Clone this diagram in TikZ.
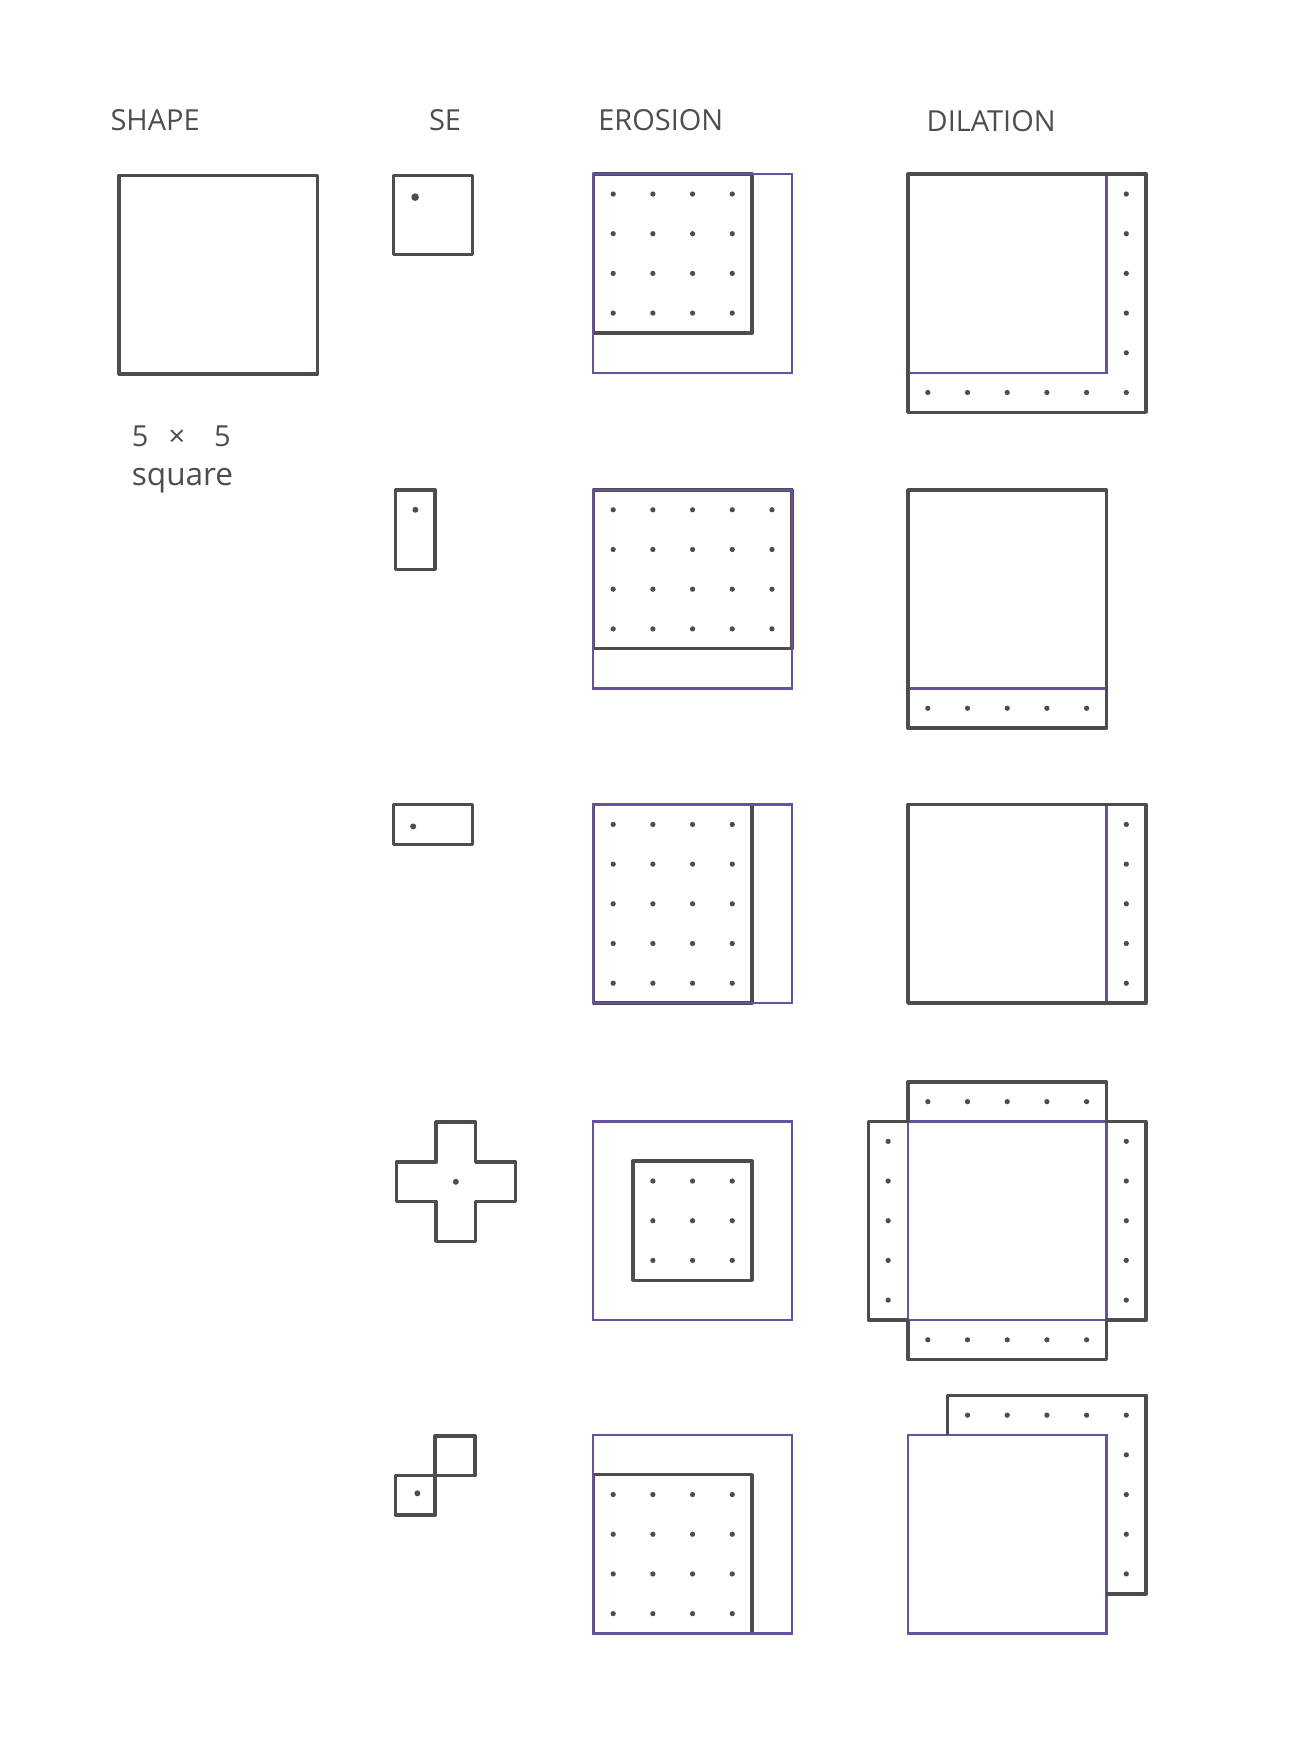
\documentclass[tikz,border=0pt]{standalone}
\usepackage{fontspec}
\setmainfont{Open Sans}
\usetikzlibrary{positioning}
\definecolor{pencil}{RGB}{80,76,78}
\definecolor{inkviolet}{RGB}{104,82,160}

\begin{document}
\begin{tikzpicture}[
    x=0.0225cm, y=-0.0225cm,
    result/.style={draw=pencil, line width=2pt, line join=round},
    orig/.style={draw=inkviolet, line width=1.3pt},
    sebox/.style={draw=pencil, line width=2pt, line join=round},
    pix/.style={fill=pencil},
    sepix/.style={fill=pencil},
    title/.style={font=\fontsize{16.5}{19}\selectfont, text=pencil, inner sep=0pt},
    cell/.style={x=0.795cm, y=-0.795cm}
  ]
    \useasboundingbox (0,0) rectangle (1148,1568);

    % column heads
    \node[title] (shapehead) at (138,107) {SHAPE};
    \node[title] (sehead) at (396,107) {SE};
    \node[title] (erohead) at (588,107) {EROSION};
    \node[title] (dilhead) at (882,108) {DILATION};

    % the shape
    \begin{scope}[shift={(106,156)}, cell]
        \draw[sebox] (0,0) rectangle (5,5);
    \end{scope}
    \node[title, anchor=west] (sizenote) at (117,388) {5\hspace{0.7em}×\hspace{1.0em}5};
    \node[title, anchor=west, font=\fontsize{18}{20}\selectfont] (sqnote) at (117,428) {square};

    % row 1: 2x2 square
    \begin{scope}[shift={(350,156)}, cell]
        \draw[sebox] (0,0) rectangle (2,2);
        \fill[sepix] (0.55,0.55) circle[radius=2.2pt];
    \end{scope}
    \begin{scope}[shift={(528,155)}, cell]
        \draw[result] (0,0) rectangle (4,4);
        \draw[orig] (0,0) rectangle (5,5);
        \foreach \i in {0,...,3}
            \foreach \j in {0,...,3}
                \fill[pix] (\i+.5,\j+.5) circle[radius=1.5pt];
    \end{scope}
    \begin{scope}[shift={(808,155)}, cell]
        \draw[orig] (0,0) rectangle (5,5);
        \draw[result] (0,0) rectangle (6,6);
        \foreach \j in {0,...,5}
            \fill[pix] (5.5,\j+.5) circle[radius=1.5pt];
        \foreach \i in {0,...,4}
            \fill[pix] (\i+.5,5.5) circle[radius=1.5pt];
    \end{scope}

    % row 2: vertical pair
    \begin{scope}[shift={(352,436)}, cell]
        \draw[sebox] (0,0) rectangle (1,2);
        \fill[sepix] (0.5,0.5) circle[radius=1.7pt];
    \end{scope}
    \begin{scope}[shift={(528,436)}, cell]
        \draw[result] (0,0) rectangle (5,4);
        \draw[orig] (0,0) rectangle (5,5);
        \foreach \i in {0,...,4}
            \foreach \j in {0,...,3}
                \fill[pix] (\i+.5,\j+.5) circle[radius=1.5pt];
    \end{scope}
    \begin{scope}[shift={(808,436)}, cell]
        \draw[orig] (0,0) rectangle (5,5);
        \draw[result] (0,0) rectangle (5,6);
        \foreach \i in {0,...,4}
            \fill[pix] (\i+.5,5.5) circle[radius=1.5pt];
    \end{scope}

    % row 3: horizontal pair
    \begin{scope}[shift={(350,716)}, cell]
        \draw[sebox] (0,0) rectangle (2,1);
        \fill[sepix] (0.5,0.55) circle[radius=1.7pt];
    \end{scope}
    \begin{scope}[shift={(528,716)}, cell]
        \draw[result] (0,0) rectangle (4,5);
        \draw[orig] (0,0) rectangle (5,5);
        \foreach \i in {0,...,3}
            \foreach \j in {0,...,4}
                \fill[pix] (\i+.5,\j+.5) circle[radius=1.5pt];
    \end{scope}
    \begin{scope}[shift={(808,716)}, cell]
        \draw[orig] (0,0) rectangle (5,5);
        \draw[result] (0,0) rectangle (6,5);
        \foreach \j in {0,...,4}
            \fill[pix] (5.5,\j+.5) circle[radius=1.5pt];
    \end{scope}

    % row 4: cross
    \begin{scope}[shift={(388,1034)}, cell]
        \draw[sebox] (0,-1) -- (1,-1) -- (1,0) -- (2,0) -- (2,1) -- (1,1) -- (1,2)
            -- (0,2) -- (0,1) -- (-1,1) -- (-1,0) -- (0,0) -- cycle;
        \fill[sepix] (0.5,0.5) circle[radius=1.7pt];
    \end{scope}
    \begin{scope}[shift={(528,998)}, cell]
        \draw[result] (1,1) rectangle (4,4);
        \draw[orig] (0,0) rectangle (5,5);
        \foreach \i in {1,...,3}
            \foreach \j in {1,...,3}
                \fill[pix] (\i+.5,\j+.5) circle[radius=1.5pt];
    \end{scope}
    \begin{scope}[shift={(808,998)}, cell]
        \draw[orig] (0,0) rectangle (5,5);
        \draw[result] (0,-1) -- (5,-1) -- (5,0) -- (6,0) -- (6,5) -- (5,5) -- (5,6)
            -- (0,6) -- (0,5) -- (-1,5) -- (-1,0) -- (0,0) -- cycle;
        \draw[result] (0,0) -- (0,-1) (5,0) -- (5,-1) (5,5) -- (6,5)
            (0,5) -- (0,6) (0,0) -- (-1,0) (0,5) -- (-1,5);
        \foreach \k in {0,...,4} {
            \fill[pix] (\k+.5,-.5) circle[radius=1.5pt];
            \fill[pix] (\k+.5,5.5) circle[radius=1.5pt];
            \fill[pix] (-.5,\k+.5) circle[radius=1.5pt];
            \fill[pix] (5.5,\k+.5) circle[radius=1.5pt];
        }
    \end{scope}

    % row 5: diagonal pair
    \begin{scope}[shift={(352,1313)}, cell]
        \draw[sebox] (0,0) rectangle (1,1);
        \draw[sebox] (1,-1) rectangle (2,0);
        \fill[sepix] (0.55,0.45) circle[radius=1.7pt];
    \end{scope}
    \begin{scope}[shift={(528,1277)}, cell]
        \draw[result] (0,1) rectangle (4,5);
        \draw[orig] (0,0) rectangle (5,5);
        \foreach \i in {0,...,3}
            \foreach \j in {1,...,4}
                \fill[pix] (\i+.5,\j+.5) circle[radius=1.5pt];
    \end{scope}
    \begin{scope}[shift={(808,1277)}, cell]
        \draw[orig] (0,0) rectangle (5,5);
        \draw[result] (1,0) -- (1,-1) -- (6,-1) -- (6,4) -- (5,4);
        \foreach \i in {1,...,5}
            \fill[pix] (\i+.5,-.5) circle[radius=1.5pt];
        \foreach \j in {0,...,3}
            \fill[pix] (5.5,\j+.5) circle[radius=1.5pt];
    \end{scope}
\end{tikzpicture}
\end{document}
